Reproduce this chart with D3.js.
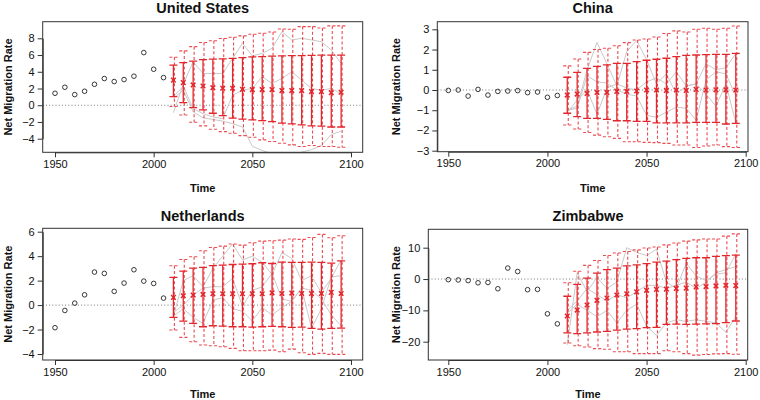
<!DOCTYPE html>
<html><head><meta charset="utf-8">
<script src="https://cdn.jsdelivr.net/npm/d3@7"></script>
<style>
body{margin:0;background:#fff}
svg{display:block}
text{font-family:"Liberation Sans",Arial,Helvetica,sans-serif;fill:#111}
</style>
</head><body>
<svg id="chart" width="760" height="400"></svg>
<script>
// ---------- data ----------
const histYears = [1950,1955,1960,1965,1970,1975,1980,1985,1990,1995,2000,2005];
const fcYears   = [2010,2015,2020,2025,2030,2035,2040,2045,2050,2055,2060,2065,2070,2075,2080,2085,2090,2095];
const xTicks = [1950,2000,2050,2100];

// United States
const usHist  = [1.43,2.15,1.27,1.67,2.5,3.19,2.83,3.07,3.47,6.29,4.3,3.3];
const usMed   = [3.0,2.7,2.43,2.3,2.1,2.03,2.03,1.9,1.87,1.87,1.87,1.75,1.75,1.75,1.63,1.63,1.5,1.55];
const usHi80  = [4.8,5.1,5.26,5.46,5.5,5.55,5.6,5.7,5.78,5.82,5.86,5.9,5.92,5.93,5.97,5.98,6.0,6.0];
const usLo80  = [1.04,0.32,-0.28,-0.56,-0.96,-1.24,-1.55,-1.67,-1.75,-1.83,-1.95,-2.15,-2.23,-2.35,-2.47,-2.5,-2.6,-2.6];
const usHi95  = [5.74,6.5,7.0,7.5,7.7,7.97,8.13,8.29,8.49,8.6,8.76,9.12,9.08,9.4,9.4,9.24,9.48,9.48];
const usLo95  = [-0.16,-1.16,-2.03,-2.47,-2.87,-3.15,-3.35,-3.63,-3.82,-4.14,-4.34,-4.54,-4.74,-4.94,-4.82,-4.94,-4.94,-5.02];
const usTraj1 = [-0.9,2.5,5.2,3.8,3.8,3.8,5.6,7.4,5.9,6.2,6.8,8.8,7.8,8.0,7.8,7.6,6.6,5.0];
const usTraj2 = [1.0,2.3,-0.4,-1.0,-1.4,-1.6,1.2,1.8,2.0,3.4,2.6,3.2,4.0,3.0,2.0,1.8,2.0,1.4];
const usTraj3 = [0.8,1.8,-0.8,-1.5,-1.7,-1.9,-2.2,-2.6,-4.9,-5.4,-5.8,-6.2,-6.0,-5.6,-5.3,-4.8,-3.5,-3.1];
const usYTicks = [-4,-2,0,2,4,6,8];

// China
const cnHist  = [-0.02,0.0,-0.3,0.03,-0.25,-0.07,-0.05,-0.03,-0.13,-0.1,-0.36,-0.27];
const cnMed   = [-0.25,-0.2,-0.17,-0.12,-0.12,-0.07,-0.07,-0.05,0.0,0.0,-0.02,0.0,-0.02,0.03,0.0,0.01,0.01,0.0];
const cnHi80  = [0.63,0.87,1.07,1.17,1.24,1.32,1.32,1.4,1.47,1.52,1.57,1.65,1.71,1.73,1.75,1.76,1.76,1.81];
const cnLo80  = [-1.15,-1.32,-1.4,-1.4,-1.45,-1.52,-1.52,-1.55,-1.55,-1.62,-1.62,-1.62,-1.62,-1.6,-1.6,-1.6,-1.68,-1.65];
const cnHi95  = [1.19,1.53,1.86,2.0,2.06,2.19,2.34,2.47,2.52,2.62,2.79,2.92,2.87,3.0,3.05,3.0,3.05,3.16];
const cnLo95  = [-1.73,-1.93,-2.1,-2.23,-2.31,-2.39,-2.56,-2.56,-2.59,-2.6,-2.64,-2.72,-2.72,-2.84,-2.77,-2.72,-2.8,-2.84];
const cnTraj1 = [-1.0,-0.8,1.0,2.35,1.3,0.2,1.9,2.45,1.5,0.3,0.8,-0.2,0.2,0.3,1.3,1.0,1.1,1.8];
const cnTraj2 = [-1.0,-0.9,0.7,0.4,0.35,0.0,-0.2,-0.3,-1.25,-1.35,-1.1,-0.85,-0.9,-1.5,0.5,0.9,0.8,-0.3];
const cnTraj3 = [-1.1,-0.5,0.0,-1.2,0.1,0.3,0.1,0.0,0.4,0.6,0.3,0.9,0.2,0.3,-0.2,-0.8,0.3,-1.6];
const cnYTicks = [-3,-2,-1,0,1,2,3];

// Netherlands
const nlHist  = [-1.85,-0.44,0.16,0.84,2.7,2.59,1.12,1.8,2.89,1.96,1.77,0.57];
const nlMed   = [0.63,0.76,0.82,0.87,0.93,0.93,0.93,0.93,0.93,0.93,1.0,0.95,0.98,0.95,0.95,0.95,1.04,0.95];
const nlHi80  = [2.26,2.78,3.02,3.08,3.22,3.27,3.32,3.35,3.38,3.46,3.4,3.51,3.49,3.49,3.51,3.49,3.43,3.62];
const nlLo80  = [-1.0,-1.31,-1.5,-1.77,-1.69,-1.72,-1.77,-1.77,-1.8,-1.77,-1.74,-1.77,-1.83,-1.8,-1.91,-1.96,-1.91,-1.88];
const nlHi95  = [3.22,3.73,3.95,4.44,4.71,4.82,4.99,4.9,5.1,5.23,5.26,5.31,5.4,5.37,5.53,5.78,5.5,5.67];
const nlLo95  = [-2.04,-2.64,-3.0,-3.27,-3.33,-3.41,-3.54,-3.73,-3.73,-3.73,-3.68,-3.81,-3.6,-3.9,-4.03,-3.95,-4.03,-4.03];
const nlTraj1 = [-0.9,2.0,2.4,1.5,3.0,4.0,5.0,3.7,4.0,3.5,2.5,4.3,3.8,2.0,2.4,1.0,2.2,3.7];
const nlTraj2 = [-0.6,0.0,0.8,1.4,1.5,1.5,2.2,-0.1,1.2,1.5,2.6,0.5,0.3,1.4,-1.9,-0.3,2.3,2.4];
const nlTraj3 = [-0.9,-0.3,-1.0,-1.5,0.4,0.6,-0.3,-0.5,-1.3,-0.2,-0.8,-0.2,0.3,1.4,1.2,0.5,-0.8,-1.7];
const nlYTicks = [-4,-2,0,2,4,6];

// Zimbabwe
const zwHist  = [-0.2,-0.3,-0.5,-1.2,-1.1,-3.1,3.5,2.4,-3.4,-3.3,-11.1,-14.3];
const zwMed   = [-11.8,-9.9,-8.3,-6.8,-6.05,-5.1,-4.7,-4.1,-3.6,-3.3,-3.2,-3.0,-2.9,-2.5,-2.4,-2.2,-2.0,-2.1];
const zwHi80  = [-5.5,-1.7,0.3,1.9,3.0,3.5,4.2,4.5,4.9,5.4,5.7,6.2,6.6,6.8,6.8,7.2,7.5,7.6];
const zwLo80  = [-17.2,-17.4,-17.2,-16.9,-16.7,-16.3,-16.0,-15.8,-15.5,-15.4,-14.5,-14.4,-14.5,-14.4,-14.3,-14.2,-13.9,-13.4];
const zwHi95  = [-1.2,2.5,4.35,5.9,7.5,8.3,8.8,9.3,9.9,10.2,10.9,11.5,12.1,12.5,12.8,12.8,13.7,14.4];
const zwLo95  = [-20.4,-21.3,-21.7,-22.2,-22.4,-23.2,-23.2,-23.8,-23.8,-23.8,-22.9,-23.2,-23.8,-24.3,-24.1,-23.9,-23.8,-24.0];
const zwTraj1 = [-21.0,2.0,-4.0,0.5,-3.0,-1.0,10.0,8.5,7.5,9.5,-1.0,-3.0,5.0,1.0,-0.5,1.5,2.0,8.0];
const zwTraj2 = [-10.0,-7.0,-3.0,-5.0,-7.0,-5.0,-6.0,-4.0,-2.0,-2.0,-3.0,-2.0,-1.0,-3.0,-1.0,2.0,3.0,4.0];
const zwTraj3 = [-11.0,-8.0,-10.0,-12.0,-10.0,-14.0,-10.0,-8.0,-15.0,-18.0,-14.0,-13.0,-13.5,-13.0,-13.5,-14.0,-17.0,-12.0];
const zwYTicks = [-20,-10,0,10];

const titles = ["United States","China","Netherlands","Zimbabwe"];

// ---------- layout ----------
const panels = [
  {title:titles[0], hist:usHist, med:usMed, hi80:usHi80, lo80:usLo80, hi95:usHi95, lo95:usLo95,
   traj:[usTraj1,usTraj2,usTraj3], yTicks:usYTicks,
   box:{l:42.7,t:21.7,r:362.7,b:152.3}, xr:[55,351], yd:[-4,8], yr:[138.7,38.3],
   titleY:13.3, xLabY:191.5, yLabX:8},
  {title:titles[1], hist:cnHist, med:cnMed, hi80:cnHi80, lo80:cnLo80, hi95:cnHi95, lo95:cnLo95,
   traj:[cnTraj1,cnTraj2,cnTraj3], yTicks:cnYTicks,
   box:{l:437.3,t:21.7,r:748,b:151.7}, xr:[448.3,745.7], yd:[-3,3], yr:[150.7,29.3],
   titleY:13.3, xLabY:191.5, yLabX:396},
  {title:titles[2], hist:nlHist, med:nlMed, hi80:nlHi80, lo80:nlLo80, hi95:nlHi95, lo95:nlLo95,
   traj:[nlTraj1,nlTraj2,nlTraj3], yTicks:nlYTicks,
   box:{l:42.7,t:228.3,r:362.7,b:360}, xr:[55,351], yd:[-4,6], yr:[354,231.7],
   titleY:220.7, xLabY:398, yLabX:8},
  {title:titles[3], hist:zwHist, med:zwMed, hi80:zwHi80, lo80:zwLo80, hi95:zwHi95, lo95:zwLo95,
   traj:[zwTraj1,zwTraj2,zwTraj3], yTicks:zwYTicks,
   box:{l:428.3,t:229.3,r:747.7,b:360}, xr:[448.3,745.7], yd:[-20,10], yr:[341.7,247.7],
   titleY:220.7, xLabY:398, yLabX:396}
];

const svg = d3.select("#chart");
const RED = "#e3262c";
const RED95 = "#ea4a50";
const tickFmt = d3.format("~g");

panels.forEach((p, i) => {
  const x = d3.scaleLinear().domain([1950, 2100]).range(p.xr);
  const y = d3.scaleLinear().domain(p.yd).range(p.yr);
  const bx = p.box;
  const g = svg.append("g");

  g.append("clipPath").attr("id", "clip" + i)
    .append("rect").attr("x", bx.l).attr("y", bx.t)
    .attr("width", bx.r - bx.l).attr("height", bx.b - bx.t);
  const inner = g.append("g").attr("clip-path", `url(#clip${i})`);

  // zero reference line
  inner.append("line")
    .attr("x1", bx.l).attr("x2", bx.r).attr("y1", y(0)).attr("y2", y(0))
    .attr("stroke", "#777").attr("stroke-width", 1).attr("stroke-dasharray", "1,2.2");

  // trajectories
  const line = d3.line().x((d, k) => x(fcYears[k])).y(d => y(d));
  p.traj.forEach(t => {
    inner.append("path").attr("d", line(t))
      .attr("fill", "none").attr("stroke", "#c9c9c9").attr("stroke-width", 1);
  });

  // 95% dashed bars
  const dOff = 1.0, dCap = 5;
  fcYears.forEach((yr, k) => {
    const cx = x(yr) + dOff;
    const gg = inner.append("g").attr("stroke", RED95).attr("stroke-width", 1.1)
      .attr("stroke-dasharray", "3,2.2").attr("fill", "none");
    gg.append("line").attr("x1", cx).attr("x2", cx).attr("y1", y(p.hi95[k])).attr("y2", y(p.lo95[k]));
    gg.append("line").attr("x1", cx - dCap).attr("x2", cx + dCap).attr("y1", y(p.hi95[k])).attr("y2", y(p.hi95[k]));
    gg.append("line").attr("x1", cx - dCap).attr("x2", cx + dCap).attr("y1", y(p.lo95[k])).attr("y2", y(p.lo95[k]));
  });

  // 80% solid bars
  const sCap = 4;
  fcYears.forEach((yr, k) => {
    const cx = x(yr);
    const gg = inner.append("g").attr("stroke", RED).attr("stroke-width", 1.3).attr("fill", "none");
    gg.append("line").attr("x1", cx).attr("x2", cx).attr("y1", y(p.lo80[k])).attr("y2", y(p.hi80[k]));
    gg.append("line").attr("x1", cx - sCap).attr("x2", cx + sCap).attr("y1", y(p.hi80[k])).attr("y2", y(p.hi80[k]));
    gg.append("line").attr("x1", cx - sCap).attr("x2", cx + sCap).attr("y1", y(p.lo80[k])).attr("y2", y(p.lo80[k]));
  });

  // median x markers
  const m = 2.3;
  fcYears.forEach((yr, k) => {
    const cx = x(yr), cy = y(p.med[k]);
    inner.append("path")
      .attr("d", `M${cx-m},${cy-m}L${cx+m},${cy+m}M${cx-m},${cy+m}L${cx+m},${cy-m}`)
      .attr("stroke", RED).attr("stroke-width", 1.5).attr("fill", "none");
  });

  // historical open circles
  inner.selectAll("circle.h").data(p.hist).enter().append("circle")
    .attr("class", "h")
    .attr("cx", (d, k) => x(histYears[k])).attr("cy", d => y(d)).attr("r", 2.3)
    .attr("fill", "none").attr("stroke", "#222").attr("stroke-width", 0.9);

  // box
  g.append("rect").attr("x", bx.l).attr("y", bx.t)
    .attr("width", bx.r - bx.l).attr("height", bx.b - bx.t)
    .attr("fill", "none").attr("stroke", "#333").attr("stroke-width", 1);

  // axes
  const xa = g.append("g").attr("transform", `translate(0,${bx.b})`)
    .call(d3.axisBottom(x).tickValues(xTicks).tickSize(5).tickSizeOuter(0).tickPadding(3).tickFormat(d3.format("d")));
  const ya = g.append("g").attr("transform", `translate(${bx.l},0)`)
    .call(d3.axisLeft(y).tickValues(p.yTicks).tickSize(5).tickSizeOuter(0).tickPadding(3).tickFormat(tickFmt));
  [xa, ya].forEach(a => {
    a.select(".domain").attr("stroke", "#333");
    a.selectAll(".tick line").attr("stroke", "#333");
    a.selectAll(".tick text").attr("font-size", 11).attr("fill", "#111")
      .attr("font-family", '"Liberation Sans",Arial,Helvetica,sans-serif');
  });

  // title & labels
  g.append("text").attr("x", (bx.l + bx.r) / 2).attr("y", p.titleY)
    .attr("text-anchor", "middle").attr("font-size", 14.5).attr("font-weight", "bold").text(p.title);
  g.append("text").attr("x", (bx.l + bx.r) / 2).attr("y", p.xLabY)
    .attr("text-anchor", "middle").attr("font-size", 11).attr("font-weight", "bold").text("Time");
  g.append("text")
    .attr("transform", `translate(${p.yLabX + 4},${(bx.t + bx.b) / 2}) rotate(-90)`)
    .attr("text-anchor", "middle").attr("font-size", 11).attr("font-weight", "bold").text("Net Migration Rate");
});
</script>
</body></html>
